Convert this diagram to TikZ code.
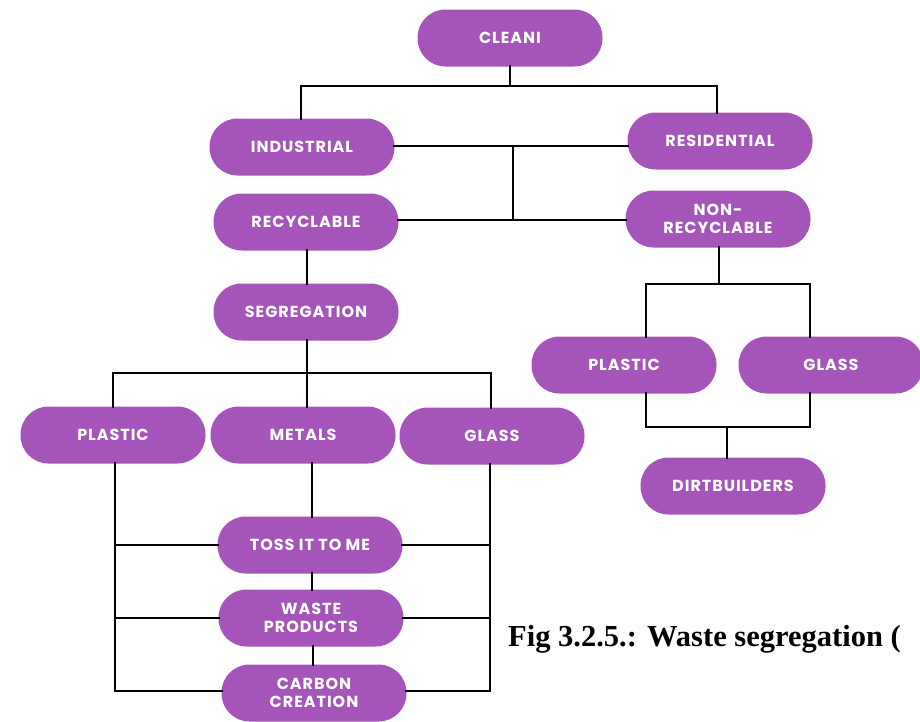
\documentclass[tikz,border=0pt]{standalone}
\usepackage{fontspec}
\setmainfont{Liberation Serif}
\newfontfamily\pillfont[LetterSpace=6]{Poppins}
\definecolor{pillpurple}{HTML}{A555B9}
\tikzset{
  pill/.style={fill=pillpurple, rounded corners=28pt, minimum width=185pt, minimum height=57pt,
    text=white, font=\pillfont\fontsize{16}{18.5}\selectfont\bfseries, align=center, inner sep=0pt},
  link/.style={line width=2.8pt, black, line cap=rect}
}
\begin{document}
\begin{tikzpicture}[x=1pt,y=-1pt]
\useasboundingbox (0,0) rectangle (920,721);
% nodes
\node[pill] (cleani) at (510,38) {CLEANI};
\node[pill] (ind) at (302,147) {INDUSTRIAL};
\node[pill] (res) at (720,141) {RESIDENTIAL};
\node[pill] (rec) at (306,222) {RECYCLABLE};
\node[pill] (non) at (718,219) {NON-\\RECYCLABLE};
\node[pill] (seg) at (306,312) {SEGREGATION};
\node[pill] (plL) at (113,435) {PLASTIC};
\node[pill] (met) at (303,435) {METALS};
\node[pill] (glL) at (492,436) {GLASS};
\node[pill] (plR) at (624,365) {PLASTIC};
\node[pill] (glR) at (831,365) {GLASS};
\node[pill] (dirt) at (733,486) {DIRTBUILDERS};
\node[pill] (toss) at (310,545) {TOSS IT TO ME};
\node[pill] (waste) at (311,618) {WASTE\\PRODUCTS};
\node[pill] (carbon) at (314,693) {CARBON\\CREATION};
% helper coordinates
\coordinate (t1) at (510,86);
\coordinate (t1l) at (301,86);
\coordinate (t1r) at (717,86);
\coordinate (m1) at (513,146);
\coordinate (m2) at (513,220);
\coordinate (n1) at (719,284);
\coordinate (n1l) at (646,284);
\coordinate (n1r) at (810,284);
\coordinate (n2l) at (646,427);
\coordinate (n2r) at (810,427);
\coordinate (n2m) at (727,427);
\coordinate (s1) at (307,373);
\coordinate (s1l) at (113,373);
\coordinate (s1r) at (491,373);
\coordinate (vL) at (115,691);
\coordinate (vR) at (490,691);
% connectors
\draw[link] (cleani.south) -- (t1);
\draw[link] (t1l) |- (t1r);
\draw[link] (t1l) -- (t1l |- ind.north);
\draw[link] (t1r) -- (t1r |- res.north);
\draw[link] (ind.east |- m1) -- (res.west |- m1);
\draw[link] (m1) -- (m2);
\draw[link] (rec.east |- m2) -- (non.west |- m2);
\draw[link] (rec.south -| 307,0) -- (seg.north -| 307,0);
\draw[link] (non.south -| n1) -- (n1);
\draw[link] (n1l) -- (n1r);
\draw[link] (n1l) -- (n1l |- plR.north);
\draw[link] (n1r) -- (n1r |- glR.north);
\draw[link] (n2l |- plR.south) -- (n2l) -- (n2r) -- (n2r |- glR.south);
\draw[link] (n2m) -- (n2m |- dirt.north);
\draw[link] (seg.south -| s1) -- (s1);
\draw[link] (s1l) -- (s1r);
\draw[link] (s1l) -- (s1l |- plL.north);
\draw[link] (s1) -- (s1 |- met.north);
\draw[link] (s1r) -- (s1r |- glL.north);
\draw[link] (vL |- plL.south) -- (vL);
\draw[link] (vR |- glL.south) -- (vR);
\draw[link] (met.south -| 312,0) -- (toss.north -| 312,0);
\draw[link] (toss.south -| 312,0) -- (waste.north -| 312,0);
\draw[link] (waste.south -| 313,0) -- (carbon.north -| 313,0);
\draw[link] (vL |- toss.west) -- (toss.west);
\draw[link] (toss.east) -- (vR |- toss.east);
\draw[link] (vL |- waste.west) -- (waste.west);
\draw[link] (waste.east) -- (vR |- waste.east);
\draw[link] (vL) -- (carbon.west |- vL);
\draw[link] (carbon.east |- vR) -- (vR);
% caption
\node[anchor=base west, inner sep=0pt, font=\fontsize{30.5}{34}\selectfont\bfseries] (cap) at (508,646) {Fig 3.2.5.: Waste segregation (};
\end{tikzpicture}
\end{document}
